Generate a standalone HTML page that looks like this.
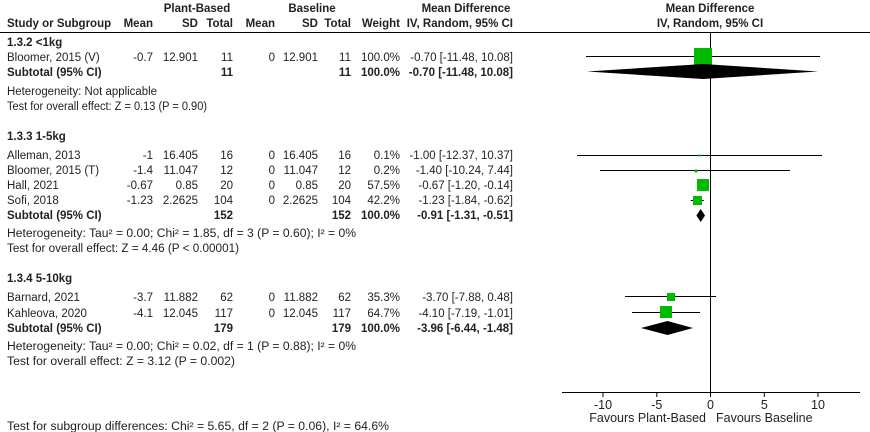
<!DOCTYPE html>
<html><head><meta charset="utf-8"><style>
body{margin:0;background:#fff;}
svg{display:block;font-family:"Liberation Sans",Arial,sans-serif;font-size:11.5px;fill:#222;}
.b{font-weight:bold;}
</style></head><body>
<svg width="870" height="432" viewBox="0 0 870 432">
<g class="b">
<text x="197" y="12" text-anchor="middle">Plant-Based</text>
<text x="312" y="12" text-anchor="middle">Baseline</text>
<text x="466" y="12" text-anchor="middle">Mean Difference</text>
<text x="710" y="12" text-anchor="middle">Mean Difference</text>
<text x="7" y="27">Study or Subgroup</text>
<text x="153" y="27" text-anchor="end">Mean</text>
<text x="198" y="27" text-anchor="end">SD</text>
<text x="233" y="27" text-anchor="end">Total</text>
<text x="275" y="27" text-anchor="end">Mean</text>
<text x="318" y="27" text-anchor="end">SD</text>
<text x="351" y="27" text-anchor="end">Total</text>
<text x="400" y="27" text-anchor="end">Weight</text>
<text x="513" y="27" text-anchor="end">IV, Random, 95% CI</text>
<text x="710" y="27" text-anchor="middle">IV, Random, 95% CI</text>
</g>
<line x1="0" y1="32.5" x2="870" y2="32.5" stroke="#000"/>
<line x1="710.5" y1="32" x2="710.5" y2="392" stroke="#000"/>
<line x1="562" y1="392.5" x2="860" y2="392.5" stroke="#000"/>
<g stroke="#000">
<line x1="603" y1="392" x2="603" y2="397"/><line x1="656.8" y1="392" x2="656.8" y2="397"/>
<line x1="710.5" y1="392" x2="710.5" y2="397"/><line x1="764.3" y1="392" x2="764.3" y2="397"/>
<line x1="818" y1="392" x2="818" y2="397"/></g>
<g text-anchor="middle" style="font-size:12.5px">
<text x="603" y="409">-10</text><text x="656.8" y="409">-5</text><text x="710.5" y="409">0</text>
<text x="764.3" y="409">5</text><text x="818" y="409">10</text></g>
<g style="font-size:12.5px">
<text x="706" y="422" text-anchor="end">Favours Plant-Based</text>
<text x="716" y="422">Favours Baseline</text></g>

<!-- group 1 -->
<text class="b" x="7" y="46">1.3.2 &lt;1kg</text>
<g>
<text x="7" y="61">Bloomer, 2015 (V)</text>
<text x="153" y="61" text-anchor="end">-0.7</text><text x="198" y="61" text-anchor="end">12.901</text><text x="233" y="61" text-anchor="end">11</text>
<text x="275" y="61" text-anchor="end">0</text><text x="318" y="61" text-anchor="end">12.901</text><text x="351" y="61" text-anchor="end">11</text>
<text x="400" y="61" text-anchor="end">100.0%</text><text x="513" y="61" text-anchor="end">-0.70 [-11.48, 10.08]</text>
</g>
<g class="b">
<text x="7" y="76">Subtotal (95% CI)</text><text x="233" y="76" text-anchor="end">11</text><text x="351" y="76" text-anchor="end">11</text>
<text x="400" y="76" text-anchor="end">100.0%</text><text x="513" y="76" text-anchor="end">-0.70 [-11.48, 10.08]</text></g>
<text x="7" y="95" textLength="150" lengthAdjust="spacingAndGlyphs">Heterogeneity: Not applicable</text>
<text x="7" y="110" textLength="200" lengthAdjust="spacingAndGlyphs">Test for overall effect: Z = 0.13 (P = 0.90)</text>
<line x1="586" y1="56.5" x2="820" y2="56.5" stroke="#000"/>
<rect x="694" y="48" width="18" height="18" fill="#00bb00"/>
<polygon points="587,71.5 703,64 818,71.5 703,79" fill="#000"/>

<!-- group 2 -->
<text class="b" x="7" y="140">1.3.3 1-5kg</text>
<g>
<text x="7" y="159">Alleman, 2013</text><text x="153" y="159" text-anchor="end">-1</text><text x="198" y="159" text-anchor="end">16.405</text><text x="233" y="159" text-anchor="end">16</text>
<text x="275" y="159" text-anchor="end">0</text><text x="318" y="159" text-anchor="end">16.405</text><text x="351" y="159" text-anchor="end">16</text>
<text x="400" y="159" text-anchor="end">0.1%</text><text x="513" y="159" text-anchor="end">-1.00 [-12.37, 10.37]</text>
<text x="7" y="174">Bloomer, 2015 (T)</text><text x="153" y="174" text-anchor="end">-1.4</text><text x="198" y="174" text-anchor="end">11.047</text><text x="233" y="174" text-anchor="end">12</text>
<text x="275" y="174" text-anchor="end">0</text><text x="318" y="174" text-anchor="end">11.047</text><text x="351" y="174" text-anchor="end">12</text>
<text x="400" y="174" text-anchor="end">0.2%</text><text x="513" y="174" text-anchor="end">-1.40 [-10.24, 7.44]</text>
<text x="7" y="189">Hall, 2021</text><text x="153" y="189" text-anchor="end">-0.67</text><text x="198" y="189" text-anchor="end">0.85</text><text x="233" y="189" text-anchor="end">20</text>
<text x="275" y="189" text-anchor="end">0</text><text x="318" y="189" text-anchor="end">0.85</text><text x="351" y="189" text-anchor="end">20</text>
<text x="400" y="189" text-anchor="end">57.5%</text><text x="513" y="189" text-anchor="end">-0.67 [-1.20, -0.14]</text>
<text x="7" y="204">Sofi, 2018</text><text x="153" y="204" text-anchor="end">-1.23</text><text x="198" y="204" text-anchor="end">2.2625</text><text x="233" y="204" text-anchor="end">104</text>
<text x="275" y="204" text-anchor="end">0</text><text x="318" y="204" text-anchor="end">2.2625</text><text x="351" y="204" text-anchor="end">104</text>
<text x="400" y="204" text-anchor="end">42.2%</text><text x="513" y="204" text-anchor="end">-1.23 [-1.84, -0.62]</text>
</g>
<g class="b">
<text x="7" y="219">Subtotal (95% CI)</text><text x="233" y="219" text-anchor="end">152</text><text x="351" y="219" text-anchor="end">152</text>
<text x="400" y="219" text-anchor="end">100.0%</text><text x="513" y="219" text-anchor="end">-0.91 [-1.31, -0.51]</text></g>
<text x="7" y="237" textLength="349" lengthAdjust="spacingAndGlyphs">Heterogeneity: Tau² = 0.00; Chi² = 1.85, df = 3 (P = 0.60); I² = 0%</text>
<text x="7" y="252" textLength="232" lengthAdjust="spacingAndGlyphs">Test for overall effect: Z = 4.46 (P &lt; 0.00001)</text>
<g stroke="#000">
<line x1="577" y1="155.5" x2="822" y2="155.5"/>
<line x1="600" y1="170.5" x2="790" y2="170.5"/>
<line x1="697.6" y1="185.5" x2="709" y2="185.5"/>
<line x1="690.7" y1="200.5" x2="703.8" y2="200.5"/></g>
<rect x="698.5" y="154.5" width="2" height="2" fill="#00bb00"/>
<rect x="694.5" y="169.5" width="3" height="3" fill="#00bb00"/>
<rect x="697" y="179" width="12" height="12" fill="#00bb00"/>
<rect x="693" y="196" width="9" height="9" fill="#00bb00"/>
<polygon points="696.4,215.5 700.7,209 705,215.5 700.7,222" fill="#000"/>

<!-- group 3 -->
<text class="b" x="7" y="282">1.3.4 5-10kg</text>
<g>
<text x="7" y="301">Barnard, 2021</text><text x="153" y="301" text-anchor="end">-3.7</text><text x="198" y="301" text-anchor="end">11.882</text><text x="233" y="301" text-anchor="end">62</text>
<text x="275" y="301" text-anchor="end">0</text><text x="318" y="301" text-anchor="end">11.882</text><text x="351" y="301" text-anchor="end">62</text>
<text x="400" y="301" text-anchor="end">35.3%</text><text x="513" y="301" text-anchor="end">-3.70 [-7.88, 0.48]</text>
<text x="7" y="317">Kahleova, 2020</text><text x="153" y="317" text-anchor="end">-4.1</text><text x="198" y="317" text-anchor="end">12.045</text><text x="233" y="317" text-anchor="end">117</text>
<text x="275" y="317" text-anchor="end">0</text><text x="318" y="317" text-anchor="end">12.045</text><text x="351" y="317" text-anchor="end">117</text>
<text x="400" y="317" text-anchor="end">64.7%</text><text x="513" y="317" text-anchor="end">-4.10 [-7.19, -1.01]</text>
</g>
<g class="b">
<text x="7" y="332">Subtotal (95% CI)</text><text x="233" y="332" text-anchor="end">179</text><text x="351" y="332" text-anchor="end">179</text>
<text x="400" y="332" text-anchor="end">100.0%</text><text x="513" y="332" text-anchor="end">-3.96 [-6.44, -1.48]</text></g>
<text x="7" y="350" textLength="349" lengthAdjust="spacingAndGlyphs">Heterogeneity: Tau² = 0.00; Chi² = 0.02, df = 1 (P = 0.88); I² = 0%</text>
<text x="7" y="365" textLength="228" lengthAdjust="spacingAndGlyphs">Test for overall effect: Z = 3.12 (P = 0.002)</text>
<g stroke="#000">
<line x1="625" y1="296.5" x2="716" y2="296.5"/>
<line x1="632" y1="312.5" x2="700" y2="312.5"/></g>
<rect x="667" y="293" width="8" height="8" fill="#00bb00"/>
<rect x="660" y="306" width="12" height="12" fill="#00bb00"/>
<polygon points="641,328 667.5,321 693,328 667.5,335" fill="#000"/>

<text x="7" y="430" textLength="382" lengthAdjust="spacingAndGlyphs">Test for subgroup differences: Chi² = 5.65, df = 2 (P = 0.06), I² = 64.6%</text>
</svg>
</body></html>
